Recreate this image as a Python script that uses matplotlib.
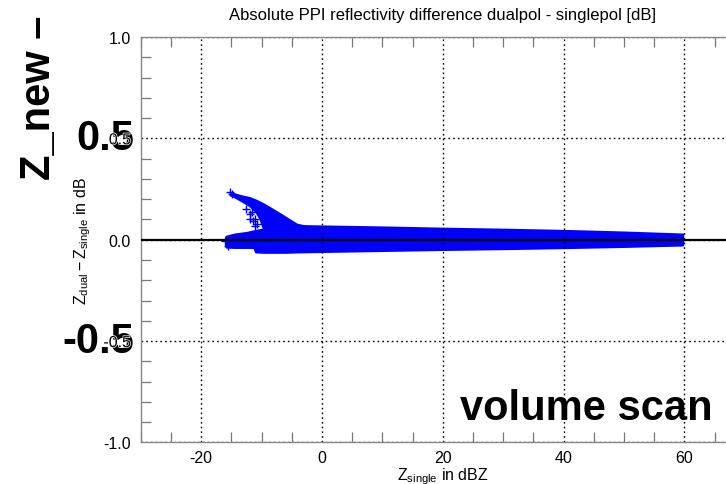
import matplotlib
matplotlib.use("Agg")
import matplotlib.pyplot as plt
import matplotlib.patheffects as pe
import numpy as np

plt.rcParams["font.family"] = ["Liberation Sans", "DejaVu Sans"]
plt.rcParams["mathtext.fontset"] = "custom"
plt.rcParams["mathtext.rm"] = "Liberation Sans"
plt.rcParams["mathtext.it"] = "Liberation Sans"
plt.rcParams["axes.unicode_minus"] = False

# main band of dualpol - singlepol differences (envelope)
band_x = [-15.9, -14.5, -12.5, -11.3, -11.0, -9.7, -6.0, -4.0, 0.0, 10.0, 20.0, 30.0, 40.0, 50.0, 59.7]
band_top = [0.017, 0.028, 0.036, 0.044, 0.046, 0.053, 0.060, 0.070, 0.068, 0.063, 0.057, 0.052, 0.046, 0.038, 0.028]
band_bottom = [-0.036, -0.038, -0.038, -0.038, -0.060, -0.062, -0.062, -0.060, -0.058, -0.053,
               -0.048, -0.044, -0.039, -0.033, -0.026]

# the "wing" at low reflectivities
wing_x = [-15.2, -14.7, -13.5, -12.0, -11.0, -10.3, -9.7, -8.5, -7.0, -5.5, -4.2, -3.0]
wing_upper = [0.232, 0.228, 0.218, 0.208, 0.196, 0.186, 0.177, 0.156, 0.129, 0.101, 0.077, 0.069]
wing_lower = [0.222, 0.215, 0.195, 0.168, 0.140, 0.105, 0.055, 0.050, 0.050, 0.055, 0.060, 0.065]

# single scattered points visible outside the dense cloud
stray_x = [-15.2, -14.9, -12.5, -11.9, -11.6, -11.4, -11.9, -11.1, -10.8, -11.1, -16.0, -15.6]
stray_y = [0.234, 0.226, 0.152, 0.127, 0.135, 0.094, 0.102, 0.102, 0.077, 0.069, -0.005, -0.030]

x_major = [-20, 0, 20, 40, 60]
y_major = [-1.0, -0.5, 0.0, 0.5, 1.0]

fig = plt.figure(figsize=(7.26, 4.85), dpi=100)
ax = fig.add_axes([0.1939, 0.0856, 0.8321, 0.8361])

blue = "#0000ff"
ax.fill_between(band_x, band_bottom, band_top, color=blue, lw=1.5, zorder=1)
ax.fill_between(wing_x, wing_lower, wing_upper, color=blue, lw=1.5, zorder=1)
ax.plot(stray_x, stray_y, "+", color=blue, ms=6, mew=1.0, zorder=1)

ax.axhline(0.0, color="black", lw=1.6, zorder=3)

ax.set_xlim(-30, 70)
ax.set_ylim(-1.0, 1.0)
ax.set_xticks(x_major)
ax.set_yticks(y_major)
ax.set_xticks(np.arange(-30, 71, 5), minor=True)
ax.set_yticks(np.arange(-1.0, 1.01, 0.1), minor=True)
ax.xaxis.set_major_formatter(matplotlib.ticker.FormatStrFormatter("%d"))
ax.yaxis.set_major_formatter(matplotlib.ticker.FormatStrFormatter("%.1f"))

ax.tick_params(which="major", length=0, labelsize=11.5, pad=7)
ax.tick_params(which="minor", direction="in", length=7.2, width=0.9, color="#777777",
               top=True, right=False)
ax.tick_params(axis="x", which="major", pad=5.5)
ax.grid(True, which="major", color="black", linestyle=(0, (1.2, 2.2)), lw=1.0)
for s in ax.spines.values():
    s.set_color("#888888")
    s.set_linewidth(1.0)

ax.set_title("Absolute PPI reflectivity difference dualpol - singlepol [dB]",
             fontsize=12, pad=13)
ax.set_xlabel(r"$\mathregular{Z_{single}}$ in dBZ", fontsize=11.5, labelpad=0)
ax.set_ylabel(r"$\mathregular{Z_{dual} - Z_{single}}$ in dB", fontsize=11.5)
ax.yaxis.set_label_coords(-0.079, 0.5)

# big bold overlay labels
big = dict(fontsize=30, fontweight="bold", color="black", clip_on=False)
ax.text(-31.05, 0.5, "0.5", ha="right", va="center", zorder=1.2, **big)
ax.text(-31.05, -0.5, "-0.5", ha="right", va="center", zorder=1.2, **big)
ax.text(460 / 726, 1 - 420 / 485, "volume scan", transform=fig.transFigure,
        ha="left", va="baseline", zorder=4, **big)
fig.text(50.5 / 726, 1 - 180 / 485, "Z_new \u2013", rotation=90, rotation_mode="anchor",
         ha="left", va="baseline", fontsize=30, fontweight="bold")

for lab in ax.get_yticklabels():
    if lab.get_text() in ("0.5", "-0.5"):
        lab.set_path_effects([pe.withStroke(linewidth=1.0, foreground="white")])

fig.savefig("out.png", dpi=100)
